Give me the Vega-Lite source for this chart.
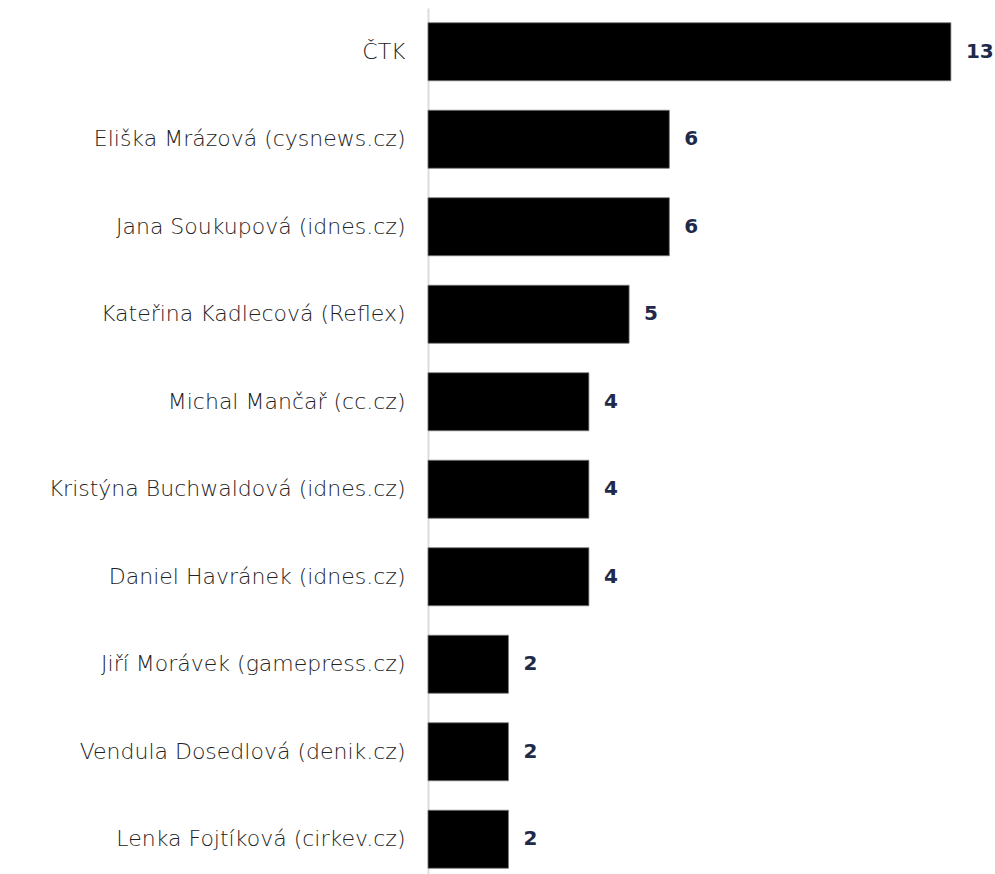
{
  "$schema": "https://vega.github.io/schema/vega-lite/v6.json",
  "autosize": {"type": "none"},
  "width": 543,
  "height": 875,
  "padding": {"left": 428, "top": 8, "right": 24, "bottom": 0},
  "background": "white",
  "config": {"view": {"stroke": null}},
  "data": {
    "values": [
      {"name": "ČTK", "count": 13},
      {"name": "Eliška Mrázová (cysnews.cz)", "count": 6},
      {"name": "Jana Soukupová (idnes.cz)", "count": 6},
      {"name": "Kateřina Kadlecová (Reflex)", "count": 5},
      {"name": "Michal Mančař (cc.cz)", "count": 4},
      {"name": "Kristýna Buchwaldová (idnes.cz)", "count": 4},
      {"name": "Daniel Havránek (idnes.cz)", "count": 4},
      {"name": "Jiří Morávek (gamepress.cz)", "count": 2},
      {"name": "Vendula Dosedlová (denik.cz)", "count": 2},
      {"name": "Lenka Fojtíková (cirkev.cz)", "count": 2}
    ]
  },
  "encoding": {
    "y": {
      "field": "name",
      "type": "nominal",
      "sort": null,
      "scale": {"paddingInner": 0.337, "paddingOuter": 0.1685},
      "axis": {
        "title": null,
        "ticks": false,
        "domainColor": "#dcdcdc",
        "domainWidth": 2,
        "labelFont": "DejaVu Sans",
        "labelFontWeight": 200,
        "labelFontSize": 22,
        "labelColor": "#222222",
        "labelPadding": 23,
        "labelLimit": 500
      }
    },
    "x": {
      "field": "count",
      "type": "quantitative",
      "scale": {"domain": [0, 13.5], "nice": false},
      "axis": null
    }
  },
  "layer": [
    {"mark": {"type": "bar", "color": "#000000", "stroke": "#777777", "strokeWidth": 0.8}},
    {
      "mark": {"type": "text", "align": "left", "baseline": "middle", "dx": 15, "font": "DejaVu Sans", "fontWeight": "bold", "fontSize": 20, "color": "#1f2a4a"},
      "encoding": {"text": {"field": "count", "type": "quantitative"}}
    }
  ]
}
